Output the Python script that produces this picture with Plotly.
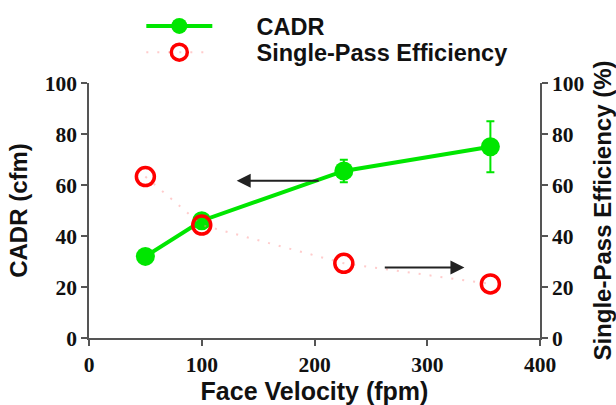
import plotly.graph_objects as go

face_velocity = [50, 100, 226, 356]
cadr = [32, 46, 65.5, 75]
cadr_err = [0, 0, 4.4, 10]
efficiency = [63.3, 44.3, 29.3, 21.2]

x_ticks = [0, 100, 200, 300, 400]
y_ticks = [0, 20, 40, 60, 80, 100]

# arrows: (tail_x, tail_y, head_x, head_y) in data units
arrow_left = (205, 61.7, 131, 61.7)
arrow_right = (261, 27.6, 333, 27.6)

GREEN = "#00e600"
RED = "#ff0000"
PAD = "\u00a0" * 6
tick_font = dict(family="Liberation Serif", size=21.5, color="#111", weight="bold")
x_title_font = dict(family="Liberation Sans", size=25, color="#111", weight="bold")
y_title_font = dict(family="Liberation Sans", size=24, color="#111", weight="bold")
legend_font = dict(family="Liberation Sans", size=23.5, color="#111", weight="bold")

fig = go.Figure()
fig.add_trace(go.Scatter(
    x=face_velocity, y=cadr, name=PAD + "CADR", mode="lines+markers",
    line=dict(color=GREEN, width=4),
    marker=dict(color=GREEN, size=19, symbol="circle"),
    error_y=dict(type="data", array=cadr_err, color=GREEN, thickness=2, width=4),
    yaxis="y", legend="legend",
))
fig.add_trace(go.Scatter(
    x=face_velocity, y=efficiency, name=PAD + "Single-Pass Efficiency", mode="lines+markers",
    line=dict(color="rgba(255,140,140,0.45)", width=2, dash="2px,9px"),
    marker=dict(color=RED, size=18, symbol="circle-open", line=dict(color=RED, width=3.5)),
    yaxis="y2", legend="legend2",
))

axis_common = dict(
    showline=True, linecolor="#555", linewidth=1.5,
    ticks="outside", ticklen=6, tickwidth=1.5, tickcolor="#555",
    showgrid=False, zeroline=False, tickfont=tick_font, automargin=False,
)

legend_common = dict(x=0.116, xanchor="left", yanchor="middle", font=legend_font,
                     itemwidth=66, bgcolor="rgba(0,0,0,0)")

fig.update_layout(
    width=616, height=405,
    margin=dict(l=89, r=76, t=83, b=67, autoexpand=False),
    paper_bgcolor="white", plot_bgcolor="white",
    xaxis=dict(range=[0, 400], tickvals=x_ticks,
               title=dict(text="Face Velocity (fpm)", font=x_title_font, standoff=20), **axis_common),
    yaxis=dict(range=[0, 100], tickvals=y_ticks,
               title=dict(text="CADR (cfm)", font=y_title_font, standoff=10), **axis_common),
    yaxis2=dict(range=[0, 100], tickvals=y_ticks, overlaying="y", side="right",
                title=dict(text="Single-Pass Efficiency (%)", font=y_title_font, standoff=16), **axis_common),
    legend=dict(y=1.223, **legend_common),
    legend2=dict(y=1.12, **legend_common),
    showlegend=True,
)

for tx, ty, hx, hy in (arrow_left, arrow_right):
    fig.add_annotation(x=hx, y=hy, ax=tx, ay=ty, xref="x", yref="y", axref="x", ayref="y",
                       showarrow=True, arrowhead=2, arrowsize=1.4, arrowwidth=2, arrowcolor="#222", text="")

fig.write_html("out.html")
